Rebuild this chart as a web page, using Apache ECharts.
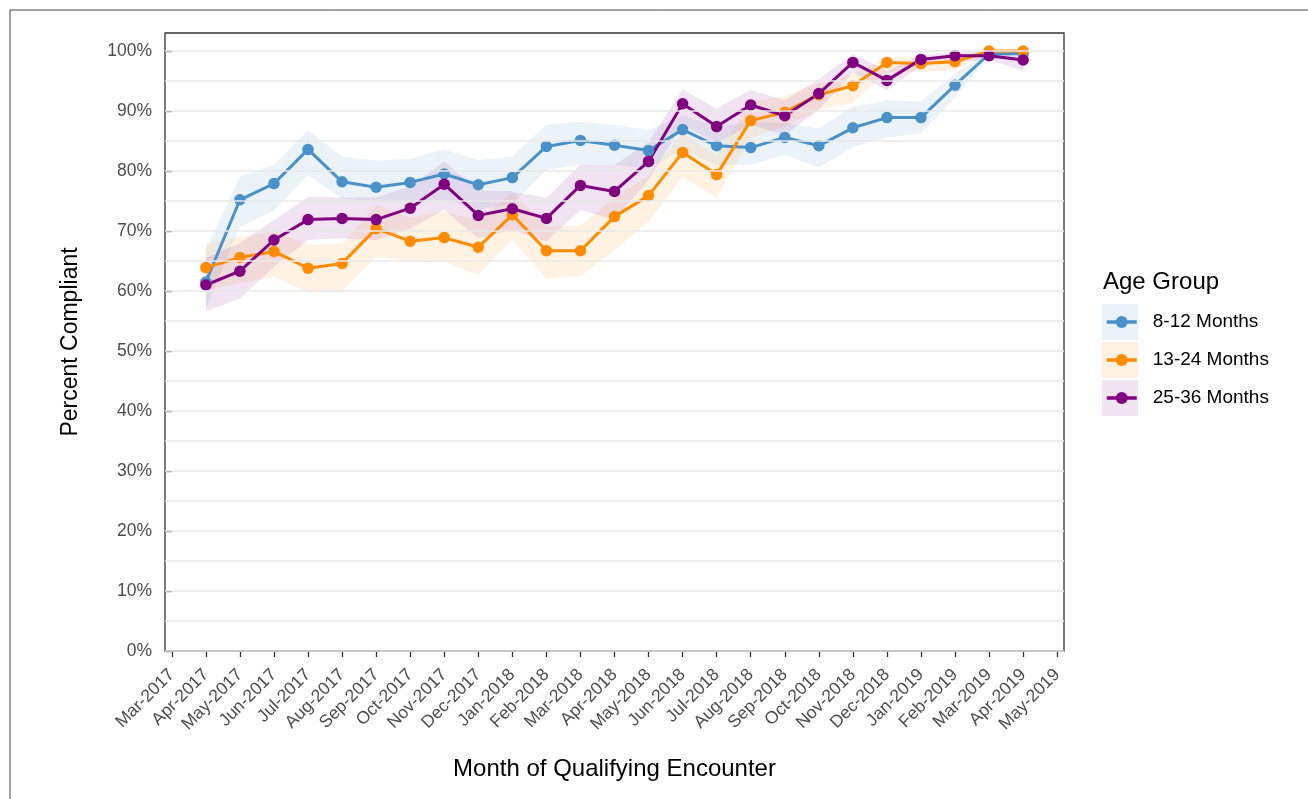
<!DOCTYPE html>
<html>
<head>
<meta charset="utf-8">
<script src="https://cdn.jsdelivr.net/npm/echarts@6/dist/echarts.min.js"></script>
<style>
	html, body { margin: 0; padding: 0; background: #fff; }
	#chart { width: 1308px; height: 799px; }
</style>
</head>
<body>
<div id="chart"></div>
<script>
	// tick labels of the x axis (index 0 = Mar-2017)
	var monthLabels = ['Mar-2017','Apr-2017','May-2017','Jun-2017','Jul-2017','Aug-2017','Sep-2017','Oct-2017','Nov-2017','Dec-2017',
		'Jan-2018','Feb-2018','Mar-2018','Apr-2018','May-2018','Jun-2018','Jul-2018','Aug-2018','Sep-2018','Oct-2018','Nov-2018','Dec-2018',
		'Jan-2019','Feb-2019','Mar-2019','Apr-2019','May-2019'];
	// data months: Apr-2017 .. Apr-2019 (index 1 .. 25)
	var dataMonths = [1,2,3,4,5,6,7,8,9,10,11,12,13,14,15,16,17,18,19,20,21,22,23,24,25];
	var yTicks = [0,10,20,30,40,50,60,70,80,90,100];
	var gridValues = [0,5,10,15,20,25,30,35,40,45,50,55,60,65,70,75,80,85,90,95,100];

	var groups = ['8-12 Months','13-24 Months','25-36 Months'];

	var blue    = [61.5,75.2,77.9,83.6,78.2,77.3,78.1,79.5,77.7,78.9,84.1,85.1,84.3,83.4,86.9,84.2,83.9,85.6,84.2,87.2,88.9,88.9,94.3,99.5,99.6];
	var blueLo  = [57.0,70.7,73.5,79.3,75.4,74.9,74.9,75.2,73.6,74.5,80.2,81.1,81.0,80.4,83.5,81.0,81.0,82.7,80.6,84.0,85.6,86.3,92.2,99.0,98.9];
	var blueHi  = [67.0,79.1,81.0,86.8,82.4,81.7,82.1,83.6,81.8,82.4,87.7,88.2,87.7,86.8,89.3,87.4,88.1,88.0,87.1,90.7,91.8,91.6,96.3,100,100];

	var orange   = [63.9,65.6,66.6,63.8,64.6,70.4,68.3,68.9,67.3,72.7,66.7,66.7,72.4,75.9,83.1,79.4,88.4,89.8,92.7,94.2,98.1,97.9,98.2,100,100];
	var orangeLo = [60.2,61.3,62.4,59.7,59.9,65.7,64.9,64.9,62.7,68.5,62.1,62.5,66.8,71.6,79.0,75.6,85.5,87.5,90.2,91.4,96.4,96.6,96.8,99.5,99.5];
	var orangeHi = [67.8,69.0,69.9,67.7,67.9,74.3,72.2,73.2,71.8,76.4,70.7,70.9,75.6,79.3,86.3,82.7,91.5,92.5,94.6,96.1,99.0,99.0,99.2,100,100];

	var purple   = [61.0,63.3,68.5,71.9,72.1,71.9,73.8,77.8,72.6,73.7,72.1,77.6,76.6,81.6,91.2,87.4,91.0,89.2,92.9,98.1,95.1,98.6,99.2,99.2,98.5];
	var purpleLo = [56.6,58.8,64.0,68.5,68.8,68.5,70.4,73.5,68.8,70.2,68.2,73.5,71.9,78.5,87.7,84.6,87.7,86.0,90.2,96.4,93.5,97.6,98.4,98.5,96.7];
	var purpleHi = [65.5,68.0,71.8,75.7,75.6,75.6,77.4,81.6,76.8,76.6,75.5,81.1,81.0,84.8,93.6,90.4,93.5,91.8,95.3,99.5,96.7,99.3,99.8,99.9,99.1];

	var colors = ['#4a91c9', '#ff8c00', '#800080'];
	var bandColors = ['rgba(74,145,201,0.11)', 'rgba(255,140,0,0.11)', 'rgba(128,0,128,0.11)'];
	var font = '"Liberation Sans", Arial, sans-serif';

	function pairs(vals) {
		return dataMonths.map(function (m, i) { return [m, vals[i]]; });
	}

	// ribbon drawn as one polygon through the axes
	function bandRenderer(color) {
		return function (params, api) {
			if (params.dataIndex !== 0) return null;
			var n = params.dataInsideLength;
			var top = [], bottom = [];
			for (var i = 0; i < n; i++) {
				var x = api.value(0, i);
				bottom.push(api.coord([x, api.value(1, i)]));
				top.unshift(api.coord([x, api.value(2, i)]));
			}
			return {
				type: 'polygon',
				shape: { points: bottom.concat(top) },
				style: { fill: color },
				silent: true
			};
		};
	}

	var chart = echarts.init(document.getElementById('chart'));

	var series = [];
	// grid lines (major + minor) drawn through the y axis
	series.push({
		type: 'line', data: [], silent: true,
		markLine: {
			silent: true, symbol: 'none', label: { show: false },
			lineStyle: { color: '#e9e9e9', width: 1.6, type: 'solid' },
			emphasis: { disabled: true },
			data: gridValues.map(function (v) { return { yAxis: v }; })
		}
	});

	var lows = [blueLo, orangeLo, purpleLo];
	var highs = [blueHi, orangeHi, purpleHi];
	var means = [blue, orange, purple];

	// ribbons
	for (var g = 0; g < 3; g++) {
		series.push({
			type: 'custom', renderItem: bandRenderer(bandColors[g]), silent: true,
			data: dataMonths.map(function (m, i) { return [m, lows[g][i], highs[g][i]]; }),
			encode: { x: 0, y: [1, 2] }, z: 2
		});
	}
	// lines
	for (var k = 0; k < 3; k++) {
		series.push({
			name: groups[k], type: 'line', data: pairs(means[k]),
			symbol: 'circle', symbolSize: 11.5,
			lineStyle: { color: colors[k], width: 3 },
			itemStyle: { color: colors[k] },
			z: 3
		});
	}

	var option = {
		animation: false,
		textStyle: { fontFamily: font },
		title: {
			text: 'Age Group', left: 1098, top: 265,
			textStyle: { fontSize: 24, fontWeight: 'normal', color: '#000', fontFamily: font }
		},
		legend: {
			data: groups, orient: 'vertical', left: 1105, top: 310, padding: 0,
			itemWidth: 30, itemHeight: 15, itemGap: 14,
			lineStyle: { width: 3.5 },
			textStyle: { fontSize: 19, color: '#000', lineHeight: 24, padding: [0, 0, 0, 11], fontFamily: font }
		},
		grid: {
			left: 165, right: 244, top: 33, bottom: 148,
			show: true, borderColor: '#333', borderWidth: 1.3, backgroundColor: 'transparent'
		},
		xAxis: {
			type: 'value', min: -0.2, max: 26.2,
			name: 'Month of Qualifying Encounter', nameLocation: 'middle', nameGap: 106,
			nameTextStyle: { fontSize: 24, color: '#000', fontFamily: font },
			axisLine: { show: false },
			axisTick: { show: true, length: 6, customValues: monthLabels.map(function (l, i) { return i; }), lineStyle: { color: '#333', width: 1.3 } },
			axisLabel: {
				customValues: monthLabels.map(function (l, i) { return i; }),
				rotate: 45, fontSize: 17.5, color: '#4d4d4d', margin: 21, fontFamily: font,
				formatter: function (v) { return monthLabels[Math.round(v)]; }
			},
			splitLine: { show: false }
		},
		yAxis: {
			type: 'value', min: 0, max: 103,
			name: 'Percent Compliant', nameLocation: 'middle', nameGap: 83,
			nameTextStyle: { fontSize: 23, color: '#000', fontFamily: font },
			axisLine: { show: false },
			axisTick: { show: true, length: 6, customValues: yTicks, lineStyle: { color: '#333', width: 1.3 } },
			axisLabel: {
				customValues: yTicks, fontSize: 17.5, color: '#4d4d4d', margin: 13, fontFamily: font,
				formatter: function (v) { return v + '%'; }
			},
			splitLine: { show: false }
		},
		graphic: [
			{ type: 'rect', shape: { x: 10, y: 10, width: 1320, height: 820 }, style: { fill: 'none', stroke: '#444', lineWidth: 1 }, silent: true },
			{ type: 'rect', shape: { x: 1102, y: 304, width: 36, height: 36 }, style: { fill: bandColors[0] }, z: 0 },
			{ type: 'rect', shape: { x: 1102, y: 342, width: 36, height: 36 }, style: { fill: bandColors[1] }, z: 0 },
			{ type: 'rect', shape: { x: 1102, y: 380, width: 36, height: 36 }, style: { fill: bandColors[2] }, z: 0 }
		],
		series: series
	};
	chart.setOption(option);
</script>
</body>
</html>
